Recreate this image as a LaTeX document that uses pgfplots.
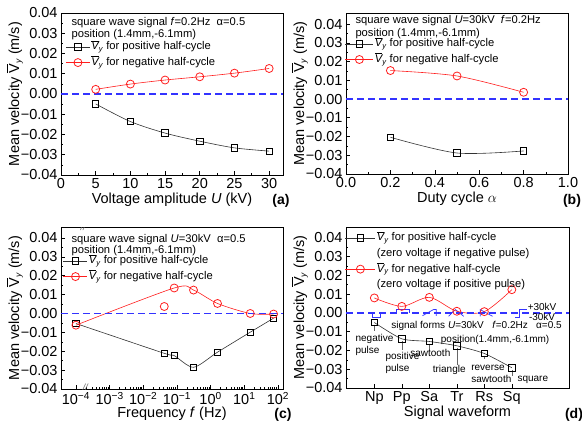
\documentclass[border=0pt]{standalone}
\usepackage{fontspec}
\setmainfont{Liberation Sans}
\usepackage{pgfplots}
\pgfplotsset{compat=1.18}
\definecolor{zblue}{RGB}{51,51,255}
\definecolor{lred}{RGB}{255,30,30}
\newcommand{\lgfont}{\fontsize{11.2bp}{13bp}\selectfont}
\newcommand{\anfont}{\fontsize{10bp}{12bp}\selectfont}
\newcommand{\tkfont}{\fontsize{14.5bp}{16bp}\selectfont}
\newcommand{\lbfont}{\fontsize{14.5bp}{17bp}\selectfont}
\newcommand{\Vy}{$\overline{\mbox{\itshape V}}_{\mbox{\fontsize{7.5bp}{8bp}\selectfont\itshape y}}$}
\newcommand{\VY}{$\overline{\mbox{V}}_{\mbox{\fontsize{8.5bp}{9bp}\selectfont\itshape y}}$}
\pgfplotsset{
 panel/.style={
  scale only axis, anchor=south west,
  axis line style={line width=0.8bp, black},
  tick align=inside, xtick pos=bottom, ytick pos=left,
  major tick length=4bp, minor tick length=2.2bp,
  every tick/.style={black, line width=0.6bp},
  xticklabel style={font=\tkfont},
  yticklabel style={font=\tkfont},
  /pgf/number format/assume math mode=true,
  scaled y ticks=false,
  ytick={-0.04,-0.03,-0.02,-0.01,0,0.01,0.02,0.03,0.04},
  yticklabels={−0.04,−0.03,−0.02,−0.01,0.00,0.01,0.02,0.03,0.04},
  minor y tick num=1,
  ymin=-0.04,
  every axis x label/.style={at={([yshift=-25bp]axis description cs:0.5,0)},anchor=center,font=\lbfont},
  every axis y label/.style={at={([xshift=-46bp]axis description cs:0,0.5)},anchor=center,rotate=90,font=\lbfont},
  ylabel={Mean velocity \VY{} (m/s)},
  legend cell align=left,
  legend style={draw=none, fill=none, font=\lgfont, inner sep=0pt, row sep=1.2bp,
     anchor=north west, nodes={inner sep=1.2bp, text height=9bp, text depth=3bp}},
  legend image code/.code={\draw[mark repeat=2,mark phase=2,##1] plot coordinates {(0bp,0bp) (12bp,0bp) (24bp,0bp)};},
 },
 blk/.style={color=black!80, line width=0.6bp, mark=square, mark size=3.2bp, mark options={solid, fill=white, draw=black, line width=0.8bp}},
 rd/.style={color=lred, line width=0.6bp, mark=o, mark size=4bp, mark options={solid, fill=white, draw=lred, line width=0.8bp}},
 zline/.style={color=zblue, draw=zblue, line width=1.6bp, dash pattern=on 7bp off 4bp},
}
\begin{document}
\begin{tikzpicture}[x=1bp,y=1bp]
\useasboundingbox (0,0) rectangle (582,428);
% ---------------- (a)
\begin{axis}[panel, at={(61bp,253bp)}, width=222bp, height=162bp,
  xmin=0, xmax=32, ymax=0.04, xtick={0,5,...,30}, minor x tick num=1,
  xlabel={Voltage amplitude \textit{U} (kV)},
  legend style={at={(rel axis cs:0.02,0.836)}}]
\addlegendimage{blk}\addlegendentry{\Vy{} for positive half-cycle}
\addlegendimage{rd}\addlegendentry{\Vy{} for negative half-cycle}
\addplot[zline, forget plot] coordinates {(0,0) (32,0)};
\addplot[blk, smooth, forget plot] coordinates {(5,-0.0049) (10,-0.0136) (15,-0.0193) (20,-0.0233) (25,-0.0266) (30,-0.0282)};
\addplot[rd, smooth, forget plot] coordinates {(5,0.0023) (10,0.0049) (15,0.0069) (20,0.0085) (25,0.0103) (30,0.0126)};
\node[anchor=west, font=\lgfont] at (rel axis cs:0.032,0.94) {square wave signal \textit{f}=0.2Hz\ \ α=0.5};
\node[anchor=west, font=\lgfont] at (rel axis cs:0.032,0.867) {position (1.4mm,-6.1mm)};
\end{axis}
% ---------------- (b)
\begin{axis}[panel, at={(346bp,254bp)}, width=222bp, height=161bp,
  xmin=0, xmax=1, ymax=0.0459, xtick={0,0.2,0.4,0.6,0.8,1}, xticklabels={0.0,0.2,0.4,0.6,0.8,1.0}, minor x tick num=1,
  xlabel={Duty cycle $\alpha$},
  legend image code/.code={\draw[mark repeat=2,mark phase=2,#1] plot coordinates {(0bp,0bp) (14bp,0bp) (28bp,0bp)};},
  legend style={at={(rel axis cs:-0.005,0.854)}}]
\addlegendimage{blk}\addlegendentry{\Vy{} for positive half-cycle}
\addlegendimage{rd}\addlegendentry{\Vy{} for negative half-cycle}
\addplot[zline, forget plot] coordinates {(0,0) (1,0)};
\addplot[blk, smooth, forget plot] coordinates {(0.2,-0.0204) (0.5,-0.0288) (0.8,-0.0277)};
\addplot[rd, smooth, forget plot] coordinates {(0.2,0.0152) (0.5,0.0123) (0.8,0.0036)};
\node[anchor=west, font=\lgfont] at (rel axis cs:0.027,0.953) {square wave signal \textit{U}=30kV\ \ \textit{f}=0.2Hz};
\node[anchor=west, font=\lgfont] at (rel axis cs:0.027,0.869) {position (1.4mm,-6.1mm)};
\end{axis}
% ---------------- (c)
\begin{axis}[panel, at={(61bp,39bp)}, width=222bp, height=162bp,
  xmode=log, xmin=3.6e-5, xmax=141, ymax=0.0458,
  xtick={1e-4,1e-3,1e-2,1e-1,1,10,100},
  xticklabels={10\textsuperscript{−4},10\textsuperscript{−3},10\textsuperscript{−2},10\textsuperscript{−1},10\textsuperscript{0},10\textsuperscript{1},10\textsuperscript{2}},
  xlabel={Frequency \textit{f} (Hz)},
  legend style={at={(rel axis cs:0.009,0.836)}}]
\addlegendimage{blk}\addlegendentry{\Vy{} for positive half-cycle}
\addlegendimage{rd}\addlegendentry{\Vy{} for negative half-cycle}
\addplot[blk, smooth, tension=0.45, forget plot] coordinates {(1e-4,-0.0053) (0.042,-0.0211) (0.083,-0.0223) (0.31,-0.0285) (1.6,-0.0205) (15,-0.0099) (74,-0.0025)};
\addplot[rd, smooth, tension=0.5, forget plot] coordinates {(1e-4,-0.0062) (0.083,0.0135) (0.31,0.0124) (1.6,0.0053) (15,0.0000) (74,-0.0003)};
\addplot[rd, only marks, forget plot] coordinates {(0.042,0.0037)};
\addplot[zline, forget plot] coordinates {(3.6e-5,-0.0001) (141,-0.0001)};
\node[anchor=west, font=\lgfont] at (rel axis cs:0.032,0.925) {square wave signal \textit{U}=30kV\ \ α=0.5};
\node[anchor=west, font=\lgfont] at (rel axis cs:0.032,0.852) {position (1.4mm,-6.1mm)};
\node[font=\fontsize{9bp}{9bp}\selectfont\itshape, text=black!60] at (rel axis cs:0.1,1) {//};
\node[font=\fontsize{9bp}{9bp}\selectfont\itshape, text=black!60] at (rel axis cs:0.11,0.01) {//};
\end{axis}
% ---------------- (d)
\begin{axis}[panel, at={(346bp,40bp)}, width=223bp, height=161bp,
  xmin=-0.03, xmax=8.08, ymax=0.0458, xtick={1,2,3,4,5,6}, xticklabels={Np,Pp,Sa,Tr,Rs,Sq},
  xlabel={Signal waveform},
  legend image code/.code={\draw[mark repeat=2,mark phase=2,#1] plot coordinates {(0bp,0bp) (15bp,0bp) (30bp,0bp)};},
  legend style={at={(rel axis cs:-0.005,0.978)}}]
\addlegendimage{blk}\addlegendentry{\Vy{} for positive half-cycle}
\addlegendimage{empty legend}\addlegendentry{(zero voltage if negative pulse)}
\addlegendimage{rd}\addlegendentry{\Vy{} for negative half-cycle}
\addlegendimage{empty legend}\addlegendentry{(zero voltage if positive pulse)}
% waveform icons
\addplot[zblue, line width=0.7bp, forget plot] coordinates {(0.77,0) (0.91,0) (0.91,-0.0021) (1.21,-0.0021) (1.21,0)};
\addplot[zblue, line width=0.7bp, forget plot] coordinates {(1.81,0) (1.81,0.0018) (2.27,0.0018) (2.27,0)};
\addplot[zblue, line width=0.7bp, forget plot] coordinates {(2.75,-0.0015) (3.15,0.0018) (3.25,0.0018) (3.25,-0.0015)};
\addplot[zblue, line width=0.7bp, forget plot] coordinates {(3.7,-0.0018) (3.95,0.0018) (4.25,-0.0018)};
\addplot[zblue, line width=0.7bp, forget plot] coordinates {(4.85,-0.0018) (4.85,0.0018) (5.3,-0.0018)};
\addplot[zblue, line width=0.7bp, forget plot] coordinates {(6.12,-0.0021) (6.27,-0.0021) (6.27,0.0018) (6.55,0.0018)};
% connectors
\addplot[black!60, line width=0.4bp, forget plot] coordinates {(1,-0.0062) (1,-0.0098)};
\addplot[black!60, line width=0.4bp, forget plot] coordinates {(2,-0.0150) (2,-0.0195)};
\addplot[black!60, line width=0.4bp, forget plot] coordinates {(3,-0.0164) (3,-0.0204)};
\addplot[black!60, line width=0.4bp, forget plot] coordinates {(4,-0.0187) (4,-0.0280)};
\addplot[black!60, line width=0.4bp, forget plot] coordinates {(5,-0.0228) (5,-0.0248)};
\addplot[black!60, line width=0.4bp, forget plot] coordinates {(6,-0.0304) (6,-0.0337)};
\addplot[blk, smooth, tension=0.4, forget plot] coordinates {(1,-0.0051) (2,-0.0138) (3,-0.0152) (4,-0.0175) (5,-0.0216) (6,-0.0292)};
\addplot[rd, smooth, forget plot] coordinates {(1,0.0080) (2,0.0035) (3,0.0083) (4,0.0009) (5,0.0007) (6,0.0124)};
\addplot[zline, forget plot] coordinates {(-0.03,-0.0001) (8.08,-0.0001)};
\node[anchor=west, font=\anfont] at (axis cs:1.49,-0.0071) {signal forms \textit{U}=30kV\ \ \ \textit{f}=0.2Hz\ \ \ α=0.5};
\node[anchor=east, font=\anfont] at (axis cs:7.49,-0.01455) {position(1.4mm,-6.1mm)};
\node[anchor=west, font=\anfont, align=left] at (axis cs:0.19,-0.0173) {negative\\pulse};
\node[anchor=west, font=\anfont, align=left] at (axis cs:1.28,-0.0264) {positive\\pulse};
\node[anchor=west, font=\anfont] at (axis cs:2.18,-0.0212) {sawtooth};
\node[anchor=west, font=\anfont] at (axis cs:3.0,-0.0305) {triangle};
\node[anchor=west, font=\anfont, align=left] at (axis cs:4.40,-0.0323) {reverse\\sawtooth};
\node[anchor=west, font=\anfont] at (axis cs:6.08,-0.0354) {square};
\node[font=\anfont] at (axis cs:7.1,0.0030) {+30kV};
\node[font=\anfont] at (axis cs:7.1,-0.0020) {-30kV};
\end{axis}
% panel labels
\node[font=\bfseries\fontsize{14bp}{16bp}\selectfont] at (281,227) {(a)};
\node[font=\bfseries\fontsize{14bp}{16bp}\selectfont] at (572,227) {(b)};
\node[font=\bfseries\fontsize{14bp}{16bp}\selectfont] at (283,13) {(c)};
\node[font=\bfseries\fontsize{14bp}{16bp}\selectfont] at (574,13) {(d)};
\end{tikzpicture}
\end{document}
